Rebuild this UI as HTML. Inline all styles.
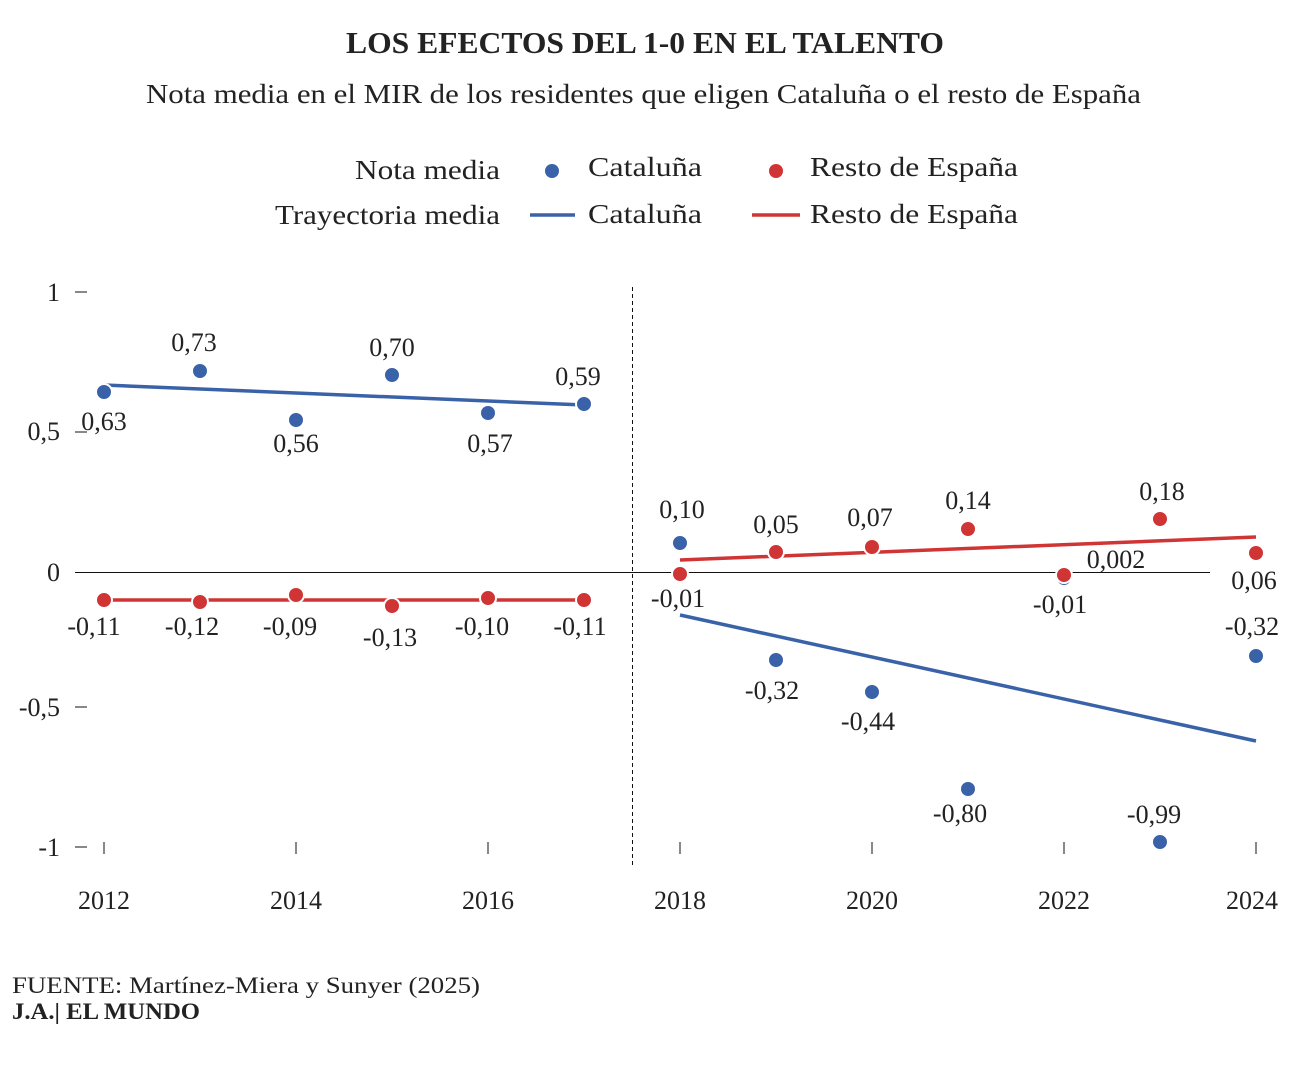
<!DOCTYPE html>
<html><head><meta charset="utf-8"><style>
body{margin:0;background:#fff;}
svg text{font-family:"Liberation Serif",serif;fill:#222;}
</style></head><body>
<svg width="1292" height="1068" viewBox="0 0 1292 1068" xmlns="http://www.w3.org/2000/svg">
<text x="346" y="53" font-size="31" font-weight="bold" fill="#111" textLength="598" lengthAdjust="spacingAndGlyphs">LOS EFECTOS DEL 1-0 EN EL TALENTO</text>
<text x="146" y="103" font-size="27" fill="#333" textLength="995" lengthAdjust="spacingAndGlyphs">Nota media en el MIR de los residentes que eligen Cataluña o el resto de España</text>
<!-- legend -->
<g font-size="27">
<text x="355" y="179" textLength="145" lengthAdjust="spacingAndGlyphs">Nota media</text>
<text x="275" y="224" textLength="225" lengthAdjust="spacingAndGlyphs">Trayectoria media</text>
<circle cx="552" cy="171" r="7" fill="#3a62a8"/>
<text x="588" y="176" textLength="114" lengthAdjust="spacingAndGlyphs">Cataluña</text>
<circle cx="776" cy="171" r="7" fill="#d03535"/>
<text x="810" y="176" textLength="208" lengthAdjust="spacingAndGlyphs">Resto de España</text>
<line x1="530" y1="215" x2="575" y2="215" stroke="#3a62a8" stroke-width="3.5"/>
<text x="588" y="223" textLength="114" lengthAdjust="spacingAndGlyphs">Cataluña</text>
<line x1="752" y1="215" x2="800" y2="215" stroke="#d03535" stroke-width="3.5"/>
<text x="810" y="223" textLength="208" lengthAdjust="spacingAndGlyphs">Resto de España</text>
</g>
<!-- axes -->
<g font-size="26" fill="#333">
<text x="60" y="301" text-anchor="end">1</text>
<text x="60" y="440" text-anchor="end">0,5</text>
<text x="60" y="581" text-anchor="end">0</text>
<text x="60" y="716" text-anchor="end">-0,5</text>
<text x="60" y="856" text-anchor="end">-1</text>
</g>
<g stroke="#111" stroke-width="1">
<line x1="75" y1="292" x2="87" y2="292"/>
<line x1="75" y1="432" x2="87" y2="432"/>
<line x1="75" y1="707" x2="87" y2="707"/>
<line x1="75" y1="847" x2="87" y2="847"/>
<line x1="75" y1="572.5" x2="1210" y2="572.5"/>
<line x1="632.5" y1="287" x2="632.5" y2="866" stroke-dasharray="4,3"/>
<line x1="104" y1="842" x2="104" y2="854"/>
<line x1="296" y1="842" x2="296" y2="854"/>
<line x1="488" y1="842" x2="488" y2="854"/>
<line x1="680" y1="842" x2="680" y2="854"/>
<line x1="872" y1="842" x2="872" y2="854"/>
<line x1="1064" y1="842" x2="1064" y2="854"/>
<line x1="1256" y1="842" x2="1256" y2="854"/>
</g>
<g font-size="26" fill="#333" text-anchor="middle">
<text x="104" y="909">2012</text><text x="296" y="909">2014</text><text x="488" y="909">2016</text>
<text x="680" y="909">2018</text><text x="872" y="909">2020</text><text x="1064" y="909">2022</text><text x="1252" y="909">2024</text>
</g>
<!-- trend lines -->
<g stroke-width="3.5">
<line x1="104" y1="385" x2="584" y2="405" stroke="#3a62a8"/>
<line x1="104" y1="600" x2="584" y2="600" stroke="#d03535"/>
<line x1="680" y1="615" x2="1256" y2="741" stroke="#3a62a8"/>
<line x1="680" y1="560" x2="1256" y2="537" stroke="#d03535"/>
</g>
<!-- points -->
<g stroke="#fff" stroke-width="2">
<g fill="#3a62a8">
<circle cx="104" cy="392" r="8"/><circle cx="200" cy="371" r="8"/><circle cx="296" cy="420" r="8"/>
<circle cx="392" cy="375" r="8"/><circle cx="488" cy="413" r="8"/><circle cx="584" cy="404" r="8"/>
<circle cx="680" cy="543" r="8"/><circle cx="776" cy="660" r="8"/><circle cx="872" cy="692" r="8"/>
<circle cx="968" cy="789" r="8"/><circle cx="1064" cy="578" r="8"/><circle cx="1160" cy="842" r="8"/>
<circle cx="1256" cy="656" r="8"/>
</g>
<g fill="#d03535">
<circle cx="104" cy="600" r="8"/><circle cx="200" cy="602" r="8"/><circle cx="296" cy="595" r="8"/>
<circle cx="392" cy="606" r="8"/><circle cx="488" cy="598" r="8"/><circle cx="584" cy="600" r="8"/>
<circle cx="680" cy="574" r="8"/><circle cx="776" cy="552" r="8"/><circle cx="872" cy="547" r="8"/>
<circle cx="968" cy="529" r="8"/><circle cx="1064" cy="575" r="8"/><circle cx="1160" cy="519" r="8"/>
<circle cx="1256" cy="553" r="8"/>
</g>
</g>
<!-- labels -->
<g font-size="26" fill="#333" text-anchor="middle">
<text x="104" y="430">0,63</text><text x="194" y="351">0,73</text><text x="296" y="452">0,56</text>
<text x="392" y="356">0,70</text><text x="490" y="452">0,57</text><text x="578" y="385">0,59</text>
<text x="94" y="635">-0,11</text><text x="192" y="635">-0,12</text><text x="290" y="635">-0,09</text>
<text x="390" y="646">-0,13</text><text x="482" y="635">-0,10</text><text x="580" y="635">-0,11</text>
<text x="682" y="518">0,10</text><text x="678" y="607">-0,01</text>
<text x="776" y="533">0,05</text><text x="772" y="699">-0,32</text>
<text x="870" y="526">0,07</text><text x="868" y="730">-0,44</text>
<text x="968" y="509">0,14</text><text x="960" y="822">-0,80</text>
<text x="1116" y="568">0,002</text><text x="1060" y="613">-0,01</text>
<text x="1162" y="500">0,18</text><text x="1154" y="823">-0,99</text>
<text x="1254" y="589">0,06</text><text x="1252" y="635">-0,32</text>
</g>
<text x="12" y="993" font-size="23" fill="#222" textLength="468" lengthAdjust="spacingAndGlyphs">FUENTE: Martínez-Miera y Sunyer (2025)</text>
<text x="12" y="1019" font-size="23" font-weight="bold" fill="#111" textLength="188" lengthAdjust="spacingAndGlyphs">J.A.| EL MUNDO</text>
</svg>
</body></html>
